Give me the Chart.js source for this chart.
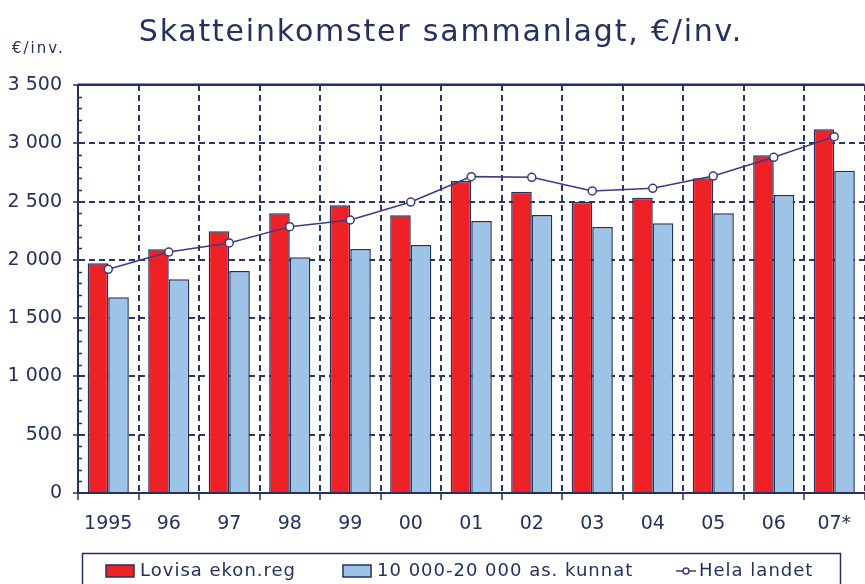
<!DOCTYPE html>
<html>
<head>
<meta charset="utf-8">
<script src="https://cdn.jsdelivr.net/npm/chart.js@4/dist/chart.umd.min.js"></script>
<style>
  html, body { margin: 0; padding: 0; background: #fff; overflow: hidden; }
  #wrap { width: 865px; height: 584px; overflow: hidden; }
</style>
</head>
<body>
<div id="wrap"><canvas id="myChart" width="870" height="584"></canvas></div>
<script>
// values
const years = ['1995', '96', '97', '98', '99', '00', '01', '02', '03', '04', '05', '06', '07*'];
const lovisa = [1970, 2090, 2245, 2400, 2468, 2382, 2676, 2585, 2499, 2533, 2700, 2897, 3120];
const kunnat = [1679, 1833, 1904, 2022, 2093, 2127, 2333, 2385, 2282, 2313, 2399, 2556, 2765];
const helaLandet = [1919, 2067, 2145, 2285, 2342, 2496, 2714, 2708, 2591, 2614, 2719, 2880, 3057];
const seriesNames = ['Lovisa ekon.reg', '10 000-20 000 as. kunnat', 'Hela landet'];
const titleText = 'Skatteinkomster sammanlagt, €/inv.';
const unitText = '€/inv.';

const navy = '#24305e';
const gridNavy = '#2a3668';
const red = '#ee2226';
const blue = '#9dc3e6';
const lineColor = '#3b3b84';
const font = 'DejaVu Sans';

// thousands with a space, like "3 500"
function fmt(v) {
  return String(v).replace(/\B(?=(\d{3})+(?!\d))/g, ' ');
}

// title, unit label, top border, minor ticks and the boxed legend
const decor = {
  id: 'decor',
  afterDraw(chart) {
    const ctx = chart.ctx;
    const area = chart.chartArea;
    const y = chart.scales.y;

    ctx.save();
    // top frame line
    ctx.strokeStyle = navy;
    ctx.lineWidth = 2;
    ctx.beginPath();
    ctx.moveTo(area.left, area.top);
    ctx.lineTo(area.right, area.top);
    ctx.stroke();
    ctx.strokeStyle = '#8890b0';
    ctx.lineWidth = 1;
    ctx.beginPath();
    ctx.moveTo(area.left, area.top - 1.5);
    ctx.lineTo(area.right, area.top - 1.5);
    ctx.stroke();

    // minor ticks every 100
    ctx.strokeStyle = navy;
    ctx.lineWidth = 1.5;
    for (let v = 100; v < y.max; v += 100) {
      if (v % 500 === 0) continue;
      const py = Math.round(y.getPixelForValue(v)) + 0.5;
      ctx.beginPath();
      ctx.moveTo(area.left, py);
      ctx.lineTo(area.left + 4, py);
      ctx.stroke();
    }

    // title
    ctx.fillStyle = navy;
    ctx.textAlign = 'center';
    ctx.textBaseline = 'alphabetic';
    ctx.font = '30px "' + font + '"';
    ctx.letterSpacing = '1.8px';
    ctx.fillText(titleText, 441, 41);

    // unit
    ctx.textAlign = 'left';
    ctx.font = '15px "' + font + '"';
    ctx.letterSpacing = '2px';
    ctx.fillText(unitText, 12, 53);

    // legend box
    ctx.strokeStyle = navy;
    ctx.lineWidth = 1.5;
    ctx.strokeRect(82.5, 553.5, 758, 60);

    const ds = chart.data.datasets;
    const bars = ds.filter((d) => d.type !== 'line');
    const line = ds.find((d) => d.type === 'line');
    const ly = 571;
    ctx.font = '18px "' + font + '"';
    ctx.letterSpacing = '1px';
    ctx.textBaseline = 'middle';

    // bar swatches
    const swatchX = [106, 343];
    bars.forEach((d, i) => {
      ctx.fillStyle = d.backgroundColor;
      ctx.fillRect(swatchX[i], 565, 28, 12);
      ctx.strokeStyle = navy;
      ctx.lineWidth = 1.5;
      ctx.strokeRect(swatchX[i], 565, 28, 12);
      ctx.fillStyle = navy;
      ctx.fillText(d.label, swatchX[i] + 34, ly);
    });

    // line swatch
    ctx.strokeStyle = lineColor;
    ctx.lineWidth = 1.5;
    ctx.beginPath();
    ctx.moveTo(676, ly);
    ctx.lineTo(696, ly);
    ctx.stroke();
    ctx.beginPath();
    ctx.arc(686, ly, 3, 0, Math.PI * 2);
    ctx.fillStyle = '#fff';
    ctx.fill();
    ctx.stroke();
    ctx.fillStyle = navy;
    ctx.fillText(line.label, 699, ly);
    ctx.letterSpacing = '0px';

    ctx.restore();
  }
};

const ctx = document.getElementById('myChart').getContext('2d');
new Chart(ctx, {
  type: 'bar',
  data: {
    labels: years,
    datasets: [
      {
        label: seriesNames[0],
        data: lovisa,
        backgroundColor: red,
        borderColor: navy,
        borderWidth: 1.5,
        barPercentage: 1,
        categoryPercentage: 0.68,
        order: 1,
      },
      {
        label: seriesNames[1],
        data: kunnat,
        backgroundColor: blue,
        borderColor: navy,
        borderWidth: 1.5,
        barPercentage: 1,
        categoryPercentage: 0.68,
        order: 1,
      },
      {
        type: 'line',
        label: seriesNames[2],
        data: helaLandet,
        borderColor: lineColor,
        borderWidth: 1.5,
        pointRadius: 4,
        pointBackgroundColor: '#fff',
        pointBorderColor: lineColor,
        pointBorderWidth: 1.5,
        tension: 0,
        order: 0,
      },
    ],
  },
  options: {
    responsive: false,
    animation: false,
    layout: { padding: { top: 85, right: 3, bottom: 0, left: 0 } },
    plugins: {
      legend: { display: false },
      title: { display: false },
      tooltip: { enabled: false },
    },
    scales: {
      x: {
        afterFit: (s) => { s.height = 91; },
        grid: {
          offset: true,
          color: gridNavy,
          lineWidth: 2,
          tickLength: 7,
          tickColor: navy,
          tickWidth: 1.5,
          tickBorderDash: [],
        },
        border: { color: navy, width: 2, dash: [6, 4] },
        ticks: {
          color: navy,
          padding: 13,
          font: { family: font, size: 19 },
          maxRotation: 0,
          autoSkip: false,
        },
      },
      y: {
        min: 0,
        max: 3500,
        afterFit: (s) => { s.width = 78; },
        grid: {
          color: gridNavy,
          lineWidth: 2,
          tickLength: 5,
          tickColor: navy,
          tickWidth: 1.5,
          tickBorderDash: [],
        },
        border: { color: navy, width: 2, dash: [6, 4] },
        ticks: {
          stepSize: 500,
          color: navy,
          padding: 11,
          font: { family: font, size: 19 },
          callback: (v) => fmt(v),
        },
      },
    },
  },
  plugins: [decor],
});
</script>
</body>
</html>
